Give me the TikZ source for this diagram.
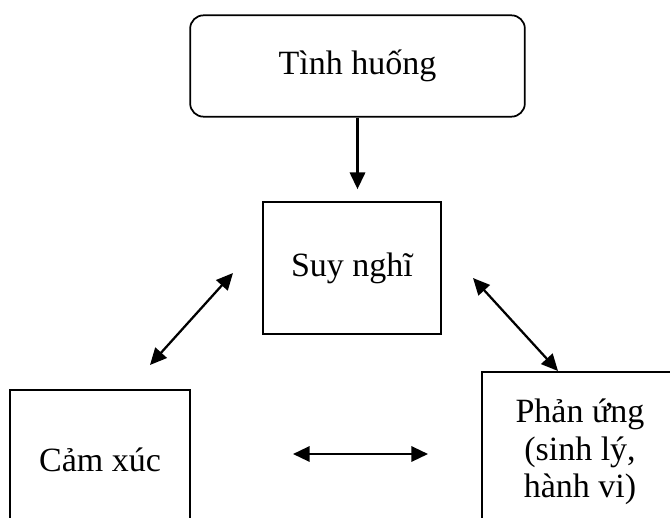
\documentclass[tikz,border=0pt]{standalone}
\usepackage{fontspec}
\setmainfont{Liberation Serif}
\usetikzlibrary{arrows.meta,calc}

\begin{document}
\begin{tikzpicture}[x=0.75pt,y=-0.75pt,
    box/.style={draw,line width=1.3pt,inner sep=0pt,align=center,
        font=\fontsize{25.5}{28}\selectfont},
    link/.style={line width=1.7pt,{Triangle[length=12.5pt,width=11.5pt]}-{Triangle[length=12.5pt,width=11.5pt]}}]
            \useasboundingbox (0,0) rectangle (670,517);
            \clip (0,0) rectangle (670,517);

            \begin{scope}[every node/.style={box}]
                \node (tinh) [rounded corners=10pt,minimum width=251pt,minimum height=76pt] at (357.5,66) {Tình huống};
                \node (suy) [minimum width=133pt,minimum height=99pt] at (352,268) {Suy nghĩ};
                \node (cam) [minimum width=135pt,minimum height=105pt] at (100,460) {Cảm xúc};
                \node (phan) [minimum width=147pt,minimum height=120pt] at (580,452) {Phản ứng\\(sinh lý,\\hành vi)};
            \end{scope}

            \coordinate (s1) at (233,273);
            \coordinate (c1) at (150,365);
            \coordinate (s2) at (473,278);
            \coordinate (p1) at (558,371);
            \coordinate (c2) at (293,454);
            \coordinate (p2) at (428,454);

            \begin{scope}
                \path [line width=1.7pt,-{Triangle[length=12.5pt,width=11.5pt]},shorten >=9pt] (tinh) edge ($(tinh.south)!1!(tinh.south |- suy.north)$);
                \path [link] (s1) edge (c1);
                \path [link] (s2) edge (p1);
                \path [link] (c2) edge (p2);
            \end{scope}
            \end{tikzpicture}
\end{document}
